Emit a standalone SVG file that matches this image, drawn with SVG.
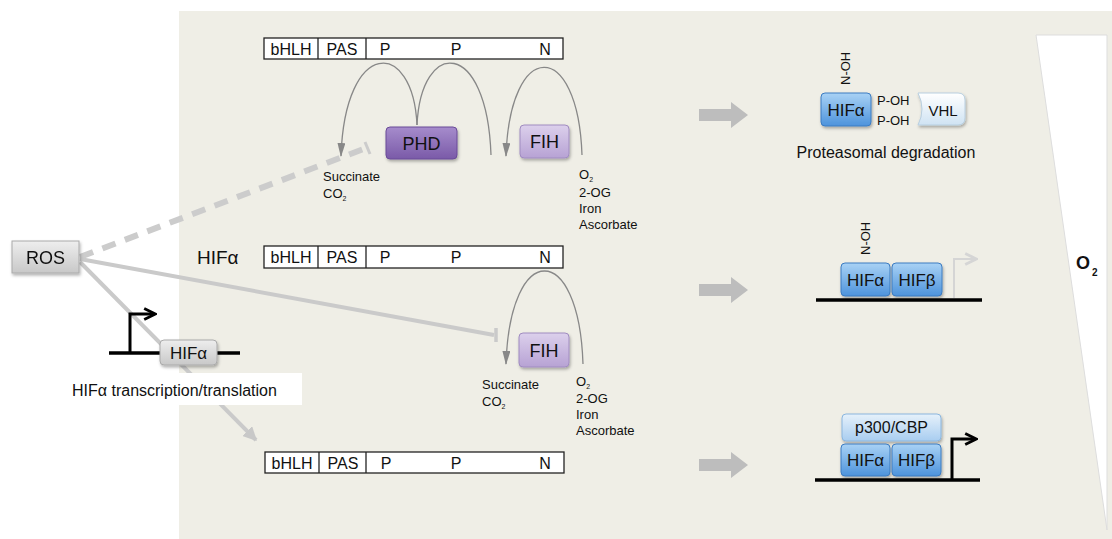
<svg xmlns="http://www.w3.org/2000/svg" width="1112" height="539" viewBox="0 0 1112 539">
<defs>
<style>
text{font-family:"Liberation Sans",Arial,sans-serif;fill:#111}
.dom{fill:#fff;stroke:#222;stroke-width:1.3}
.dt{font-size:16px;text-anchor:middle}
.sm{font-size:13px}
.arc{fill:none;stroke:#888;stroke-width:1.3}
.blue{fill:url(#gBlue);stroke:#3c7cc2;stroke-width:1}
.bt{font-size:17px;text-anchor:middle}
.big{fill:#bdbdbd}
.dna{stroke:#000;stroke-width:3.5}
</style>
<linearGradient id="gBlue" x1="0" y1="0" x2="0" y2="1"><stop offset="0" stop-color="#a9d2f5"/><stop offset="1" stop-color="#4d93dc"/></linearGradient>
<linearGradient id="gLight" x1="0" y1="0" x2="0" y2="1"><stop offset="0" stop-color="#e6f1fb"/><stop offset="1" stop-color="#a8cdf0"/></linearGradient>
<linearGradient id="gVHL" x1="0" y1="0" x2="0" y2="1"><stop offset="0" stop-color="#ffffff"/><stop offset="1" stop-color="#cfe3f3"/></linearGradient>
<linearGradient id="gPHD" x1="0" y1="0" x2="0" y2="1"><stop offset="0" stop-color="#a68ccc"/><stop offset="1" stop-color="#7a5aa8"/></linearGradient>
<linearGradient id="gFIH" x1="0" y1="0" x2="0" y2="1"><stop offset="0" stop-color="#dcd0ec"/><stop offset="1" stop-color="#b7a2d4"/></linearGradient>
<linearGradient id="gGray" x1="0" y1="0" x2="0" y2="1"><stop offset="0" stop-color="#eeeeee"/><stop offset="1" stop-color="#c8c8c8"/></linearGradient>
<filter id="sh" x="-20%" y="-20%" width="140%" height="160%"><feDropShadow dx="1" dy="2" stdDeviation="1.5" flood-color="#000" flood-opacity="0.3"/></filter>
<marker id="ah" viewBox="0 0 14 8" refX="13" refY="4" markerWidth="14" markerHeight="8" markerUnits="userSpaceOnUse" orient="auto"><path d="M0,0 L14,4 L0,8 z" fill="#888"/></marker>
<marker id="ahB" viewBox="0 0 10 10" refX="8" refY="5" markerWidth="14" markerHeight="14" markerUnits="userSpaceOnUse" orient="auto"><path d="M1,1 L9,5 L1,9" fill="none" stroke="#000" stroke-width="2"/></marker>
<marker id="ahG" viewBox="0 0 10 10" refX="8" refY="5" markerWidth="14" markerHeight="14" markerUnits="userSpaceOnUse" orient="auto"><path d="M1,1 L9,5 L1,9" fill="none" stroke="#d5d5d5" stroke-width="2"/></marker>
<marker id="ahR" viewBox="0 0 10 10" refX="9" refY="5" markerWidth="14" markerHeight="14" markerUnits="userSpaceOnUse" orient="auto"><path d="M0,0 L10,5 L0,10 z" fill="#c8c8c8"/></marker>
</defs>

<rect id="panel" x="179" y="11" width="933" height="528" fill="#efeee6"/>
<g id="o2-wedge">
<polygon points="1036,35 1107,35 1107,530" fill="#fff" stroke="#ddd" stroke-width="1"/>
<text x="1076" y="269" font-size="18" font-weight="bold">O</text>
<text x="1092" y="276" font-size="10" font-weight="bold">2</text>
</g>

<!-- connectors -->
<g id="connectors">
<line x1="80" y1="257" x2="366" y2="148" stroke="#cccccc" stroke-width="6" stroke-dasharray="14,10"/>
<line x1="365" y1="142" x2="370" y2="154" stroke="#cccccc" stroke-width="3"/>
<line x1="80" y1="259" x2="494" y2="335" stroke="#cacaca" stroke-width="4"/>
<line x1="496" y1="328" x2="496" y2="342" stroke="#cacaca" stroke-width="3.5"/>
<line x1="80" y1="262" x2="256" y2="440" stroke="#cacaca" stroke-width="4" marker-end="url(#ahR)"/>
<path class="arc" d="M417,125 C413,38 345,38 341,156" marker-end="url(#ah)"/>
<path class="arc" d="M491,155 C487,38 421,38 417,125"/>
<path class="arc" d="M582,155 C578,38 510,38 506,156" marker-end="url(#ah)"/>
<path class="arc" d="M583,364 C579,240 510,240 506,364" marker-end="url(#ah)"/>
<polygon class="big" points="699,109 731,109 731,102 748,115 731,128 731,121 699,121"/>
<polygon class="big" points="699,284 731,284 731,277 748,290 731,303 731,296 699,296"/>
<polygon class="big" points="699,459 731,459 731,452 748,465 731,478 731,471 699,471"/>
</g>

<g id="ros" filter="url(#sh)">
<rect x="12" y="241" width="67" height="32" fill="url(#gGray)" stroke="#aaa" stroke-width="1"/>
<text x="45.5" y="264" font-size="18" text-anchor="middle">ROS</text>
</g>

<g id="hif-gene">
<line class="dna" x1="109" y1="353" x2="240" y2="353"/>
<path d="M130,353 L130,314 L154,314" fill="none" stroke="#000" stroke-width="3" marker-end="url(#ahB)"/>
<rect x="160" y="340" width="57" height="25" rx="4" fill="url(#gGray)" stroke="#aaa" filter="url(#sh)"/>
<text x="188.5" y="359" font-size="17" text-anchor="middle">HIFα</text>
</g>
<g id="hif-label">
<rect x="0" y="373" width="302" height="32" fill="#fff"/>
<text x="72" y="396" font-size="16">HIFα transcription/translation</text>
</g>

<g id="domain-top">
<rect class="dom" x="264" y="38" width="299" height="21"/>
<line class="dom" x1="318" y1="38" x2="318" y2="59"/>
<line class="dom" x1="366" y1="38" x2="366" y2="59"/>
<text class="dt" x="291" y="55">bHLH</text><text class="dt" x="342" y="55">PAS</text>
<text class="dt" x="385" y="55">P</text><text class="dt" x="456" y="55">P</text><text class="dt" x="545" y="55">N</text>
</g>
<g id="domain-mid">
<text x="197" y="264" font-size="19">HIFα</text>
<rect class="dom" x="264" y="246" width="299" height="22"/>
<line class="dom" x1="318" y1="246" x2="318" y2="268"/>
<line class="dom" x1="366" y1="246" x2="366" y2="268"/>
<text class="dt" x="291" y="263">bHLH</text><text class="dt" x="342" y="263">PAS</text>
<text class="dt" x="385" y="263">P</text><text class="dt" x="456" y="263">P</text><text class="dt" x="545" y="263">N</text>
</g>
<g id="domain-bot">
<rect class="dom" x="265" y="452" width="299" height="21"/>
<line class="dom" x1="319" y1="452" x2="319" y2="473"/>
<line class="dom" x1="366" y1="452" x2="366" y2="473"/>
<text class="dt" x="292" y="469">bHLH</text><text class="dt" x="343" y="469">PAS</text>
<text class="dt" x="386" y="469">P</text><text class="dt" x="456" y="469">P</text><text class="dt" x="545" y="469">N</text>
</g>

<g id="phd">
<rect x="386" y="127" width="71" height="32" rx="4" fill="url(#gPHD)" stroke="#6a4b98" filter="url(#sh)"/>
<text x="421.5" y="150" font-size="18" text-anchor="middle" fill="#222">PHD</text>
</g>
<g id="fih-top">
<rect x="520" y="125" width="49" height="33" rx="4" fill="url(#gFIH)" stroke="#a08cc0" filter="url(#sh)"/>
<text x="544.5" y="148" font-size="18" text-anchor="middle" fill="#222">FIH</text>
</g>
<g id="cof-top">
<text class="sm" x="323" y="181">Succinate</text>
<text class="sm" x="323" y="198">CO<tspan font-size="7" dy="3">2</tspan></text>
<text class="sm" x="579" y="179">O<tspan font-size="7" dy="3">2</tspan></text>
<text class="sm" x="579" y="197">2-OG</text>
<text class="sm" x="579" y="213">Iron</text>
<text class="sm" x="579" y="229">Ascorbate</text>
</g>
<g id="fih-mid">
<rect x="519" y="333" width="50" height="34" rx="4" fill="url(#gFIH)" stroke="#a08cc0" filter="url(#sh)"/>
<text x="544" y="357" font-size="18" text-anchor="middle" fill="#222">FIH</text>
</g>
<g id="cof-mid">
<text class="sm" x="482" y="389">Succinate</text>
<text class="sm" x="482" y="406">CO<tspan font-size="7" dy="3">2</tspan></text>
<text class="sm" x="576" y="386">O<tspan font-size="7" dy="3">2</tspan></text>
<text class="sm" x="576" y="403">2-OG</text>
<text class="sm" x="576" y="419">Iron</text>
<text class="sm" x="576" y="435">Ascorbate</text>
</g>

<g id="degradation">
<text class="sm" transform="translate(850,85) rotate(-90)">N-OH</text>
<rect class="blue" x="821" y="93" width="50" height="33" rx="4" filter="url(#sh)"/>
<text class="bt" x="846" y="116">HIFα</text>
<text class="sm" x="877" y="105">P-OH</text>
<text class="sm" x="877" y="125">P-OH</text>
<path d="M918,93 L958,93 Q965,93 965,100 L965,118 Q965,125 958,125 L918,125 Q926,109 918,93 z" fill="url(#gVHL)" stroke="#b8cfe0" filter="url(#sh)"/>
<text x="943" y="116" font-size="15" text-anchor="middle">VHL</text>
<text x="886" y="158" font-size="16" text-anchor="middle">Proteasomal degradation</text>
</g>

<g id="complex-mid">
<text class="sm" transform="translate(870,255) rotate(-90)">N-OH</text>
<line class="dna" x1="816" y1="300" x2="982" y2="300"/>
<path d="M954,298 L954,259 L975,259" fill="none" stroke="#d5d5d5" stroke-width="2" marker-end="url(#ahG)"/>
<rect class="blue" x="841" y="263" width="49" height="33" rx="4" filter="url(#sh)"/>
<text class="bt" x="865.5" y="286">HIFα</text>
<rect class="blue" x="892" y="263" width="50" height="33" rx="4" filter="url(#sh)"/>
<text class="bt" x="917" y="286">HIFβ</text>
</g>

<g id="complex-bot">
<line class="dna" x1="815" y1="480" x2="980" y2="480"/>
<path d="M952,480 L952,439 L975,439" fill="none" stroke="#000" stroke-width="3" marker-end="url(#ahB)"/>
<rect x="842" y="414" width="99" height="27" rx="4" fill="url(#gLight)" stroke="#8bb6de" filter="url(#sh)"/>
<text x="891.5" y="433" font-size="16" text-anchor="middle">p300/CBP</text>
<rect class="blue" x="841" y="444" width="49" height="32" rx="4" filter="url(#sh)"/>
<text class="bt" x="865.5" y="466">HIFα</text>
<rect class="blue" x="892" y="444" width="49" height="32" rx="4" filter="url(#sh)"/>
<text class="bt" x="916.5" y="466">HIFβ</text>
</g>
</svg>
